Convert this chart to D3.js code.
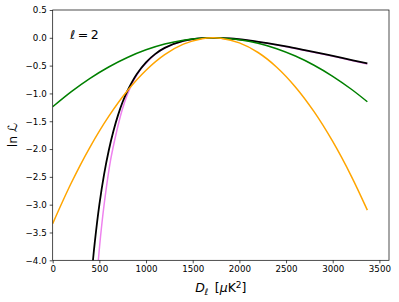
<!DOCTYPE html>
<html>
<head>
<meta charset="utf-8">
<script src="https://cdn.jsdelivr.net/npm/d3@7"></script>
<style>
  body { margin: 0; background: #fff; }
  text { font-family: "DejaVu Sans", sans-serif; fill: #000; }
</style>
</head>
<body>
<div id="chart"></div>
<script>
var gaussD   = [0, 200, 400, 600, 800, 1000, 1200, 1400, 1600, 1717, 1800, 2000, 2200, 2400, 2600, 2800, 3000, 3200, 3371]
var greenLnL = [-1.24, -0.968, -0.729, -0.525, -0.354, -0.216, -0.112, -0.042, -0.006, 0, -0.003, -0.034, -0.098, -0.196, -0.328, -0.493, -0.692, -0.925, -1.15]
var orangeLnL = [-3.34, -2.606, -1.964, -1.413, -0.952, -0.582, -0.302, -0.114, -0.016, 0, -0.008, -0.091, -0.264, -0.528, -0.883, -1.328, -1.864, -2.49, -3.098]

var blackD   = [400, 432, 450, 500, 550, 600, 650, 700, 750, 800, 900, 1000, 1100, 1200, 1400, 1600, 1717, 1900, 2100, 2300, 2500, 2700, 2900, 3100, 3371]
var blackLnL = [-4.59, -3.99, -3.69, -3.0, -2.46, -2.03, -1.68, -1.39, -1.15, -0.956, -0.655, -0.441, -0.289, -0.181, -0.056, -0.006, 0, -0.0125, -0.0475, -0.097, -0.156, -0.222, -0.29, -0.362, -0.46]

var pinkD    = [470, 489, 520, 560, 620, 680, 740, 800, 870, 950, 1000, 1100, 1200, 1400, 1600, 1717, 1900, 2100, 2300, 2500, 2700, 2900, 3100, 3371]
var pinkLnL  = [-4.4, -4.0, -3.45, -2.88, -2.2, -1.72, -1.32, -1.02, -0.76, -0.55, -0.455, -0.295, -0.184, -0.057, -0.006, 0, -0.013, -0.049, -0.1, -0.16, -0.227, -0.296, -0.369, -0.47]

var xTicks = [0, 500, 1000, 1500, 2000, 2500, 3000, 3500]
var yTicks = [0.5, 0.0, -0.5, -1.0, -1.5, -2.0, -2.5, -3.0, -3.5, -4.0]

var width = 399, height = 302
var margin = {top: 10, left: 52.7, right: 10, bottom: 41.7}
var w = width - margin.left - margin.right,
    h = height - margin.top - margin.bottom

var svg = d3.select("#chart").append("svg")
    .attr("width", width)
    .attr("height", height)

var g = svg.append("g")
    .attr("transform", "translate(" + margin.left + "," + margin.top + ")")

var x = d3.scaleLinear().domain([0, 3603]).range([0, w])
var y = d3.scaleLinear().domain([-4.0, 0.5]).range([h, 0])

svg.append("defs").append("clipPath").attr("id", "plotclip")
    .append("rect").attr("width", w).attr("height", h)

var line = d3.line()
    .x(d => x(d[0]))
    .y(d => y(d[1]))
    .curve(d3.curveCatmullRom.alpha(0.5))

var series = [
    {d: pinkD, v: pinkLnL, color: "violet", lw: 1.5},
    {d: blackD, v: blackLnL, color: "black", lw: 1.8},
    {d: gaussD, v: greenLnL, color: "green", lw: 1.5},
    {d: gaussD, v: orangeLnL, color: "orange", lw: 1.5}
]

var plot = g.append("g").attr("clip-path", "url(#plotclip)")
series.forEach(s => {
    plot.append("path")
        .datum(d3.zip(s.d, s.v))
        .attr("fill", "none")
        .attr("stroke", s.color)
        .attr("stroke-width", s.lw)
        .attr("d", line)
})

var fmt = d => (d < 0 ? "\u2212" : "") + Math.abs(d).toFixed(1)

var xAxis = g.append("g")
    .attr("transform", "translate(0," + h + ")")
    .call(d3.axisBottom(x).tickValues(xTicks).tickSize(3).tickPadding(3).tickFormat(d3.format("d")))
var yAxis = g.append("g")
    .call(d3.axisLeft(y).tickValues(yTicks).tickSize(3).tickPadding(3).tickFormat(fmt))

;[xAxis, yAxis].forEach(a => {
    a.select(".domain").remove()
    a.selectAll("line").attr("stroke", "#000").attr("stroke-width", 0.7)
    a.selectAll("text").attr("font-family", "DejaVu Sans").attr("font-size", 8.7).attr("fill", "#000")
})

// frame
g.append("rect")
    .attr("width", w).attr("height", h)
    .attr("fill", "none")
    .attr("stroke", "#000")
    .attr("stroke-width", 0.7)

// annotation
var ann = g.append("text")
    .attr("x", 17.5).attr("y", 28.5)
    .attr("font-size", 12.5)
ann.append("tspan").attr("font-style", "italic").text("\u2113")
ann.append("tspan").text("\u2009=\u20092")

// x label
var xl = svg.append("text")
    .attr("x", margin.left + w / 2)
    .attr("y", 292)
    .attr("text-anchor", "middle")
    .attr("font-size", 12.5)
xl.append("tspan").attr("font-style", "italic").text("D")
xl.append("tspan").attr("font-style", "italic").attr("font-size", 9).attr("dy", 2.5).text("\u2113")
xl.append("tspan").attr("dy", -2.5).text("\u2002[")
xl.append("tspan").attr("font-style", "italic").text("\u03bc")
xl.append("tspan").text("K")
xl.append("tspan").attr("font-size", 9).attr("dy", -4.5).text("2")
xl.append("tspan").attr("dy", 4.5).text("]")

// y label
var yl = svg.append("text")
    .attr("transform", "translate(17," + (margin.top + h / 2) + ") rotate(-90)")
    .attr("text-anchor", "middle")
    .attr("font-size", 12.5)
yl.append("tspan").text("ln ")
yl.append("tspan").attr("font-style", "italic").text("\u2112")
</script>
</body>
</html>
